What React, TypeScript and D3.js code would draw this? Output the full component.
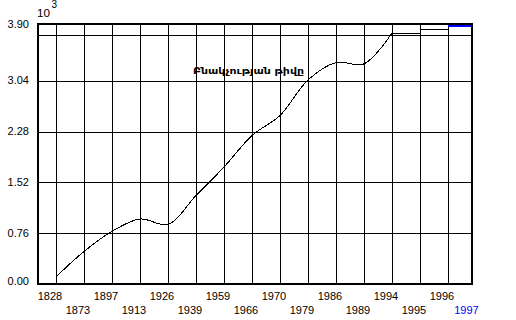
import React from 'react';
import * as d3 from 'd3';

const years = ['1828', '1873', '1897', '1913', '1926', '1939', '1959', '1966', '1970', '1979', '1986', '1989', '1994', '1995', '1996', '1997'];
const population = [0.11, 0.49, 0.79, 0.975, 0.895, 1.325, 1.75, 2.22, 2.52, 3.05, 3.31, 3.29, 3.75, 3.81, 3.855, 3.855];
const yTickValues = [0, 0.76, 1.52, 2.28, 3.04, 3.9];
const yTickLabels = ['0.00', '0.76', '1.52', '2.28', '3.04', '3.90'];
const extraGridValues = [3.72];
const title = 'Բնակչության թիվը';
const unitBase = '10';
const unitExp = '3';
const smoothEndYear = '1994';
const highlightYear = '1996';

const W = 516;
const H = 320;
const LEFT = 38;
const RIGHT = 472;
const TOP = 24;
const BOTTOM = 284;
const FONT = '"Liberation Sans", Arial, sans-serif';

export default function App() {
  const x = d3.scalePoint<string>().domain(years).range([56, 476]);
  const y = d3.scaleLinear().domain([0, 3.9]).range([284.3, 23]);

  const data = years.map((yr, i) => ({ yr, v: population[i] }));
  const iSmooth = years.indexOf(smoothEndYear);
  const iHi = years.indexOf(highlightYear);

  const lineSmooth = d3
    .line<{ yr: string; v: number }>()
    .x((d) => x(d.yr)!)
    .y((d) => y(d.v))
    .curve(d3.curveCatmullRom);
  const lineStep = d3
    .line<{ yr: string; v: number }>()
    .x((d) => x(d.yr)!)
    .y((d) => Math.round(y(d.v)) + 0.5)
    .curve(d3.curveStepAfter);
  const lineHi = d3
    .line<{ yr: string; v: number }>()
    .x((d) => x(d.yr)!)
    .y((d) => Math.round(y(d.v)))
    .curve(d3.curveLinear);

  const px = (v: number) => Math.round(v) + 0.5;

  return (
    <svg
      width={W}
      height={H}
      viewBox={`0 0 ${W} ${H}`}
      style={{ position: 'absolute', left: 0, top: 0, background: '#fff' }}
    >
      <defs>
        <clipPath id="plotClip">
          <rect x={LEFT} y={TOP - 2} width={RIGHT - LEFT} height={BOTTOM - TOP + 2} />
        </clipPath>
      </defs>
      <rect x={0} y={0} width={W} height={H} fill="#fff" />

      {/* horizontal gridlines */}
      {[...yTickValues.slice(1, -1), ...extraGridValues].map((v, i) => (
        <line
          key={'hg' + i}
          x1={LEFT}
          x2={RIGHT}
          y1={px(y(v))}
          y2={px(y(v))}
          stroke="#000"
          strokeWidth={1}
          shapeRendering="crispEdges"
        />
      ))}
      {/* vertical gridlines */}
      {years
        .filter((yr) => x(yr)! < RIGHT - 2)
        .map((yr) => (
          <line
            key={'vg' + yr}
            x1={px(x(yr)!)}
            x2={px(x(yr)!)}
            y1={TOP}
            y2={BOTTOM}
            stroke="#000"
            strokeWidth={1}
            shapeRendering="crispEdges"
          />
        ))}

      {/* data line */}
      <g clipPath="url(#plotClip)">
        <path
          d={lineSmooth(data.slice(0, iSmooth + 1)) || ''}
          fill="none"
          stroke="#000"
          strokeWidth={1}
          shapeRendering="crispEdges"
        />
        <path
          d={lineStep(data.slice(iSmooth, iHi + 1)) || ''}
          fill="none"
          stroke="#000"
          strokeWidth={1}
          shapeRendering="crispEdges"
        />
        <path
          d={lineHi(data.slice(iHi)) || ''}
          fill="none"
          stroke="#0000ff"
          strokeWidth={2}
          shapeRendering="crispEdges"
        />
      </g>

      {/* frame */}
      <g stroke="#000" strokeWidth={2} shapeRendering="crispEdges">
        <line x1={LEFT - 1} x2={RIGHT + 1} y1={TOP} y2={TOP} />
        <line x1={LEFT - 1} x2={RIGHT + 1} y1={BOTTOM} y2={BOTTOM} />
        <line x1={LEFT} x2={LEFT} y1={TOP - 1} y2={BOTTOM + 1} />
        <line x1={RIGHT} x2={RIGHT} y1={TOP - 1} y2={BOTTOM + 1} />
      </g>

      {/* y labels */}
      {yTickValues.map((v, i) => (
        <text
          key={'yl' + i}
          x={29}
          y={Math.min(Math.max(y(v) + 3.6, 28.4), 285)}
          textAnchor="end"
          fontFamily={FONT}
          fontSize={11}
          fill="#000"
        >
          {yTickLabels[i]}
        </text>
      ))}

      {/* x labels */}
      {years.map((yr, i) => (
        <text
          key={'xl' + yr}
          x={Math.min(x(yr)! - 6, 466.5)}
          y={i % 2 === 0 ? 299.5 : 313.5}
          textAnchor="middle"
          fontFamily={FONT}
          fontSize={11}
          fill={i === years.length - 1 ? '#0000ff' : '#000'}
        >
          {yr}
        </text>
      ))}

      {/* unit */}
      <text x={37} y={17} fontFamily={FONT} fontSize={10} textLength={13} lengthAdjust="spacingAndGlyphs" fill="#000">
        {unitBase}
      </text>
      <text x={51.5} y={8} fontFamily={FONT} fontSize={10} fill="#000">
        {unitExp}
      </text>

      {/* title */}
      <text
        x={193}
        y={74}
        fontFamily='"DejaVu Sans", "Noto Sans", sans-serif'
        fontWeight="bold"
        fontSize={9}
        textLength={111}
        lengthAdjust="spacingAndGlyphs"
        fill="#000"
      >
        {title}
      </text>
    </svg>
  );
}
